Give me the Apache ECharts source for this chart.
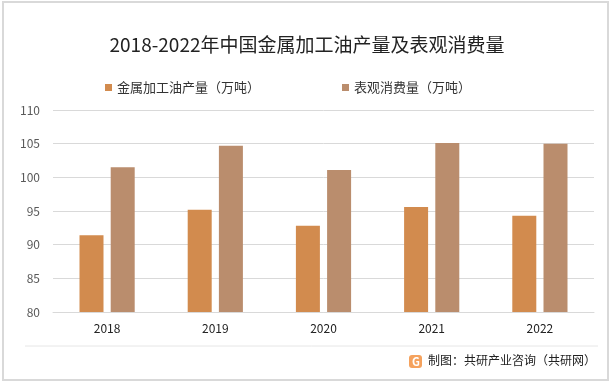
<!DOCTYPE html>
<html><head><meta charset="utf-8">
<script src="https://cdn.jsdelivr.net/npm/echarts@6/dist/echarts.min.js"></script>
<style>html,body{margin:0;padding:0;background:#fff}#c{width:614px;height:385px}</style>
</head><body><div id="c"></div>
<script>
const categories = ['2018','2019','2020','2021','2022'];
const production = [91.4, 95.2, 92.8, 95.6, 94.3];
const consumption = [101.5, 104.7, 101.1, 105.1, 105.0];
const seriesNames = ['金属加工油产量（万吨）','表观消费量（万吨）'];
const titleText = '2018-2022年中国金属加工油产量及表观消费量';
const footerText = '制图：共研产业咨询（共研网）';
const font = '"Noto Sans CJK SC", "Noto Sans", sans-serif';

const chart = echarts.init(document.getElementById('c'), null, {renderer:'canvas'});
chart.setOption({
  backgroundColor:'#fff',
  animation:false,
  title:{text:titleText,left:'center',top:30,textStyle:{fontFamily:font,fontSize:19,fontWeight:'normal',color:'#222'}},
  legend:{data:seriesNames,left:100,top:76,itemWidth:7,itemHeight:7,itemGap:82,icon:'rect',
    textStyle:{fontFamily:font,fontSize:13,color:'#333'}},
  grid:{left:53,right:20,top:110,bottom:73},
  xAxis:{type:'category',data:categories,
    axisLine:{show:true,lineStyle:{color:'#d9d9d9',width:1}},axisTick:{show:false},
    axisLabel:{fontFamily:font,fontSize:12,color:'#222',margin:10}},
  yAxis:{type:'value',min:80,max:110,interval:5,
    axisLine:{show:false},axisTick:{show:false},
    splitLine:{lineStyle:{color:'#d9d9d9',width:1}},
    axisLabel:{fontFamily:font,fontSize:12,color:'#595959',margin:13}},
  series:[
    {name:seriesNames[0],type:'bar',data:production,barWidth:24,barGap:'30%',itemStyle:{color:'#D28B4E'}},
    {name:seriesNames[1],type:'bar',data:consumption,barWidth:24,barGap:'30%',itemStyle:{color:'#BA8D6D'}}
  ],
  graphic:[
    {type:'rect',shape:{x:3,y:2,width:605,height:378},style:{fill:null,stroke:'#d9d9d9',lineWidth:2},silent:true},
    {type:'line',shape:{x1:25,y1:346,x2:598,y2:346},style:{stroke:'#e6e6e6',lineWidth:1},silent:true},
    {type:'group',left:409,top:355,children:[
      {type:'rect',shape:{x:0,y:0,width:13,height:13,r:3},style:{fill:'#F5A25D'}},
      {type:'text',style:{x:3,y:1,text:'G',fill:'#fff',font:'bold 11px '+font}}
    ]},
    {type:'text',left:428,top:354,style:{text:footerText,fill:'#222',font:'12px '+font}}
  ]
});
</script></body></html>
